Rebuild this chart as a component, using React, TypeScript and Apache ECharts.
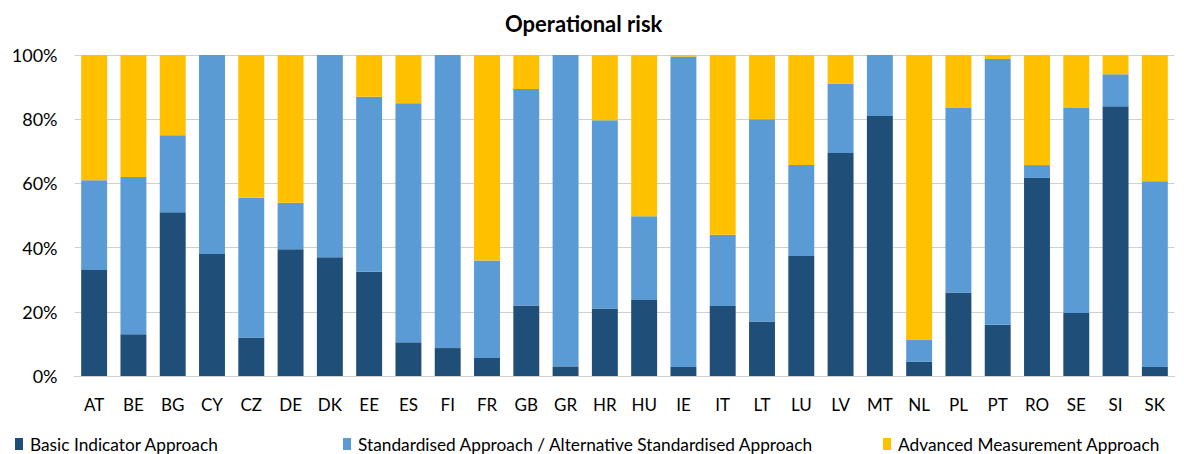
import React, { useEffect, useRef } from "react";
import * as echarts from "echarts";

const categories = ["AT","BE","BG","CY","CZ","DE","DK","EE","ES","FI","FR","GB","GR","HR","HU","IE","IT","LT","LU","LV","MT","NL","PL","PT","RO","SE","SI","SK"];
// Basic Indicator Approach share (%)
const basic = [33,13,51,38,12,39.5,37,32.5,10.5,8.7,5.6,22,3,21,23.7,2.8,21.8,17,37.4,69.5,81,4.4,26,16,61.7,19.6,84,2.8];
// Standardised Approach / ASA share (%)
const standardised = [28,49,24,62,43.5,14.5,63,54.5,74.5,91.3,30.4,67.4,97,58.7,26.1,96.7,22.2,63,28.3,21.5,19,6.8,57.5,82.8,4,63.9,10,57.9];
// Advanced Measurement Approach share (%)
const advanced = [39,38,25,0,44.5,46,0,13,15,0,64,10.6,0,20.3,50.2,0.5,56,20,34.3,9,0,88.8,16.5,1.2,34.3,16.5,6,39.3];
const yTicks = [0,20,40,60,80,100];

const seriesNames = ["Basic Indicator Approach","Standardised Approach / Alternative Standardised Approach","Advanced Measurement Approach"];
const colors = ["#1f4e79","#5b9bd5","#ffc000"];
const FONT = "Lato, sans-serif";

export default function App() {
  const ref = useRef<HTMLDivElement>(null);
  useEffect(() => {
    const chart = echarts.init(ref.current!, null, { renderer: "svg" });
    const data = [basic, standardised, advanced];
    chart.setOption({
      animation: false,
      title: {
        text: "Operational risk",
        left: 500,
        top: 7,
        textStyle: { fontFamily: FONT, fontWeight: "bold", fontSize: 22, color: "#000" },
      },
      legend: [0, 1, 2].map((i) => ({
        data: [seriesNames[i]],
        left: [10, 338, 878][i],
        top: 429,
        itemWidth: 8,
        itemHeight: 12,
        itemGap: 6,
        icon: "rect",
        textStyle: { fontFamily: FONT, fontSize: 17.3, lineHeight: 20, color: "#000", padding: [0, 0, 0, 2] },
      })),
      grid: { left: 74.5, right: 9.5, top: 55, bottom: 78, containLabel: false },
      xAxis: {
        type: "category",
        data: categories,
        axisLine: { show: true, lineStyle: { color: "#d0d0d0" } },
        axisTick: { show: false },
        axisLabel: { fontFamily: FONT, fontSize: 17, color: "#000", margin: 20, interval: 0 },
      },
      yAxis: {
        type: "value",
        min: 0,
        max: 100,
        interval: 20,
        axisLine: { show: false },
        axisTick: { show: false },
        splitLine: { lineStyle: { color: "#d0d0d0", width: 1 } },
        axisLabel: {
          fontFamily: FONT,
          fontSize: 18,
          color: "#000",
          margin: 17,
          formatter: (v: number) => (yTicks.includes(v) ? v + "%" : ""),
        },
      },
      series: [0, 1, 2].map((i) => ({
        name: seriesNames[i],
        type: "bar",
        stack: "total",
        barWidth: "66%",
        data: data[i],
        itemStyle: { color: colors[i] },
      })),
    });
    return () => chart.dispose();
  }, []);
  return <div ref={ref} style={{ position: "fixed", left: 0, top: 0, width: 1184, height: 454, background: "#fff" }} />;
}
